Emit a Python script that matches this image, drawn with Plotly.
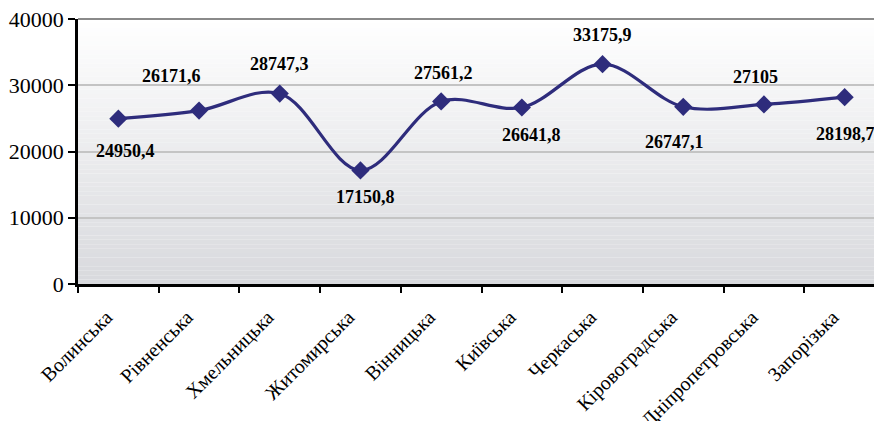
import plotly.graph_objects as go

regions = ["Волинська", "Рівненська", "Хмельницька", "Житомирська", "Вінницька",
           "Київська", "Черкаська", "Кіровоградська", "Дніпропетровська", "Запорізька"]
values = [24950.4, 26171.6, 28747.3, 17150.8, 27561.2, 26641.8, 33175.9, 26747.1, 27105, 28198.7]
value_labels = ["24950,4", "26171,6", "28747,3", "17150,8", "27561,2",
                "26641,8", "33175,9", "26747,1", "27105", "28198,7"]
y_ticks = [0, 10000, 20000, 30000, 40000]

# label offsets in pixels (x, y)
label_shift = [(7, -32), (-28, 35), (0, 30), (5, -27), (2, 28),
               (10, -27), (0, 29), (-9, -35), (-8, 27), (1, -37)]

LINE = "#2e2c7c"
fig = go.Figure()
fig.add_trace(go.Scatter(
    x=regions, y=values, mode="lines+markers",
    line=dict(color=LINE, width=3.2, shape="spline", smoothing=1.0),
    marker=dict(symbol="diamond", size=14, color=LINE),
    hoverinfo="skip", showlegend=False,
))

for r, v, t, (dx, dy) in zip(regions, values, value_labels, label_shift):
    fig.add_annotation(x=r, y=v, text="<b>" + t + "</b>", showarrow=False, xshift=dx, yshift=dy,
                       font=dict(family="Liberation Serif", size=18, color="#000000"))

# gradient background of the plot area
top = (255, 255, 255)
bot = (216, 217, 221)
n = 60
for i in range(n):
    f = (i + 0.5) / n
    c = tuple(round(top[k] + (bot[k] - top[k]) * f) for k in range(3))
    fig.add_shape(type="rect", xref="x domain", yref="y domain",
                  x0=0, x1=1, y0=1 - (i + 1) / n, y1=1 - i / n,
                  line=dict(width=0), fillcolor="rgb(%d,%d,%d)" % c, layer="below")
fig.add_shape(type="line", xref="x domain", yref="y domain", x0=0, x1=1, y0=1, y1=1,
              line=dict(color="#8a8a8a", width=2), layer="below")

fig.update_layout(
    width=882, height=421,
    margin=dict(l=70, r=5, t=11, b=145, autoexpand=False),
    paper_bgcolor="white", plot_bgcolor="white",
    font=dict(family="Liberation Serif", color="#000000"),
)
fig.update_xaxes(
    type="category", range=[-0.5, 9.5], tickson="boundaries", automargin=False,
    ticks="outside", ticklen=6, tickwidth=1.5, tickcolor="black",
    ticklabelstandoff=11, ticklabelshift=-12,
    showline=True, linecolor="black", linewidth=2.5,
    showgrid=False, tickangle=-45, tickfont=dict(size=20, family="Liberation Serif"),
)
fig.update_yaxes(
    range=[0, 40000], tickvals=y_ticks, ticktext=[str(t) for t in y_ticks], automargin=False,
    ticks="outside", ticklen=7, tickwidth=1.5, tickcolor="black", ticklabeloverflow="allow",
    showline=True, linecolor="black", linewidth=2.5,
    showgrid=True, gridcolor="#c4c4c4", gridwidth=1.5, zeroline=False,
    tickfont=dict(size=22, family="Liberation Serif"),
)

fig.write_html("out.html")
